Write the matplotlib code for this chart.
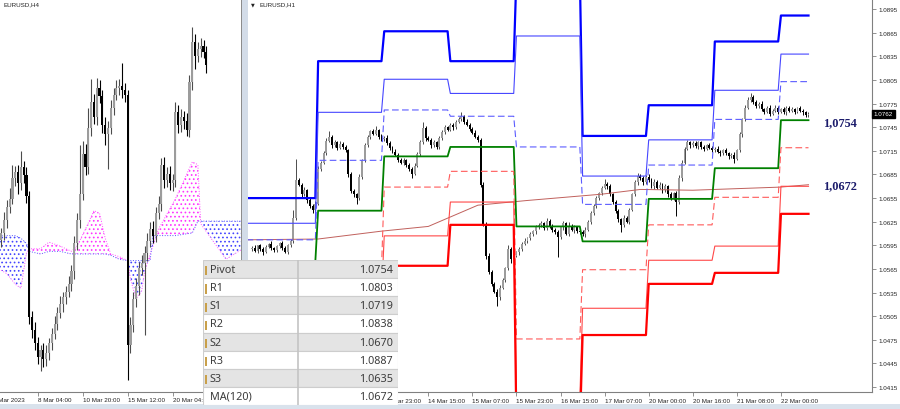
import numpy as np
import matplotlib.pyplot as plt
from matplotlib.patches import Rectangle

plt.rcParams['font.family'] = ['Liberation Sans', 'DejaVu Sans']
plt.rcParams['hatch.linewidth'] = 0.7

# ---------------- data ----------------
# H4 panel (left): closes per bar, wick sizes in pips
h4_close = [1.0630, 1.0640, 1.0650, 1.0656, 1.0672, 1.0676, 1.0668, 1.0680, 1.0674, 1.0658,
            1.0566, 1.0556, 1.0546, 1.0536, 1.0541, 1.0534, 1.0539, 1.0546, 1.0553, 1.0561,
            1.0569, 1.0576, 1.0581, 1.0585, 1.0591, 1.0601, 1.0622, 1.0640, 1.0660, 1.0690,
            1.0680, 1.0710, 1.0730, 1.0718, 1.0740, 1.0734, 1.0712, 1.0705, 1.0710, 1.0725,
            1.0735, 1.0740, 1.0742, 1.0739, 1.0735, 1.0545, 1.0560, 1.0580, 1.0590, 1.0603,
            1.0607, 1.0615, 1.0624, 1.0633, 1.0628, 1.0645, 1.0652, 1.0682, 1.0670, 1.0675,
            1.0668, 1.0670, 1.0722, 1.0712, 1.0718, 1.0715, 1.0708, 1.0745, 1.0775, 1.0765,
            1.0770, 1.0772, 1.0768, 1.0758]
h4_up = [4, 6, 5, 8, 10, 5, 6, 12, 5, 6, 4, 5, 6, 5, 4, 5, 6, 4, 5, 6,
         5, 6, 4, 5, 6, 5, 6, 5, 37, 10, 8, 15, 17, 6, 8, 6, 5, 6, 5, 6,
         5, 6, 5, 17, 5, 4, 6, 5, 6, 5, 6, 5, 6, 5, 6, 5, 6, 5, 6, 5,
         6, 5, 8, 5, 6, 5, 6, 5, 12, 6, 5, 6, 5, 4]
h4_dn = [6, 5, 6, 5, 4, 6, 8, 5, 6, 5, 5, 6, 5, 6, 11, 6, 5, 6, 5, 4,
         5, 4, 6, 5, 4, 5, 6, 5, 6, 5, 6, 5, 6, 5, 6, 5, 6, 8, 26, 5,
         5, 4, 5, 6, 5, 27, 6, 5, 6, 7, 5, 55, 6, 5, 6, 5, 4, 5, 6, 5,
         5, 6, 5, 6, 5, 6, 4, 5, 6, 10, 5, 6, 5, 6]
h4_labels = ['3 Mar 2023', '8 Mar 04:00', '10 Mar 20:00', '15 Mar 12:00', '20 Mar 04:00']
h4_label_bars = [-3, 13, 29, 45, 61]

# Ichimoku cloud (left panel)
cloud_bar = [-1, 2, 5, 7, 9, 10, 14, 17, 21, 25, 27, 30, 33, 35, 37, 39, 42, 45, 46, 48,
             50, 51, 53, 54, 56, 62, 68, 70, 71, 80, 86]
span_a = [1.0603, 1.0599, 1.0591, 1.0588, 1.0615, 1.0618, 1.0618, 1.0623, 1.0620, 1.0616,
          1.0620, 1.0633, 1.0647, 1.0645, 1.0626, 1.0614, 1.0612, 1.0609, 1.0595, 1.0580,
          1.0586, 1.0600, 1.0614, 1.0620, 1.0633, 1.0656, 1.0684, 1.0682, 1.0637, 1.0610, 1.0618]
span_b = [1.0628, 1.0628, 1.0628, 1.0626, 1.0622, 1.0616, 1.0614, 1.0616, 1.0616, 1.0614,
          1.0614, 1.0614, 1.0614, 1.0614, 1.0614, 1.0613, 1.0610, 1.0609, 1.0609, 1.0609,
          1.0609, 1.0609, 1.0609, 1.0628, 1.0628, 1.0628, 1.0630, 1.0639, 1.0639, 1.0639, 1.0639]

# H1 panel (right)
h1_close = [1.0592, 1.0588, 1.0595, 1.0590, 1.0586, 1.0593, 1.0597, 1.0591, 1.0589, 1.0594,
            1.0598, 1.0592, 1.0587, 1.0595, 1.0600,
            1.0630, 1.0678, 1.0672, 1.0660, 1.0665, 1.0652, 1.0645, 1.0640, 1.0648,
            1.0692, 1.0700, 1.0712, 1.0728, 1.0733, 1.0722, 1.0726, 1.0719, 1.0724, 1.0720, 1.0716,
            1.0685, 1.0664, 1.0660, 1.0655, 1.0682, 1.0703, 1.0722, 1.0733, 1.0740, 1.0737,
            1.0741, 1.0733, 1.0730,
            1.0732, 1.0725, 1.0719, 1.0714, 1.0710, 1.0704, 1.0700, 1.0703, 1.0697, 1.0692, 1.0686,
            1.0696, 1.0711, 1.0726, 1.0744, 1.0731, 1.0729, 1.0722, 1.0726, 1.0720, 1.0731,
            1.0739, 1.0745,
            1.0742, 1.0748, 1.0745, 1.0752, 1.0755, 1.0759, 1.0752, 1.0748, 1.0743, 1.0738,
            1.0733, 1.0729,
            1.0672, 1.0622, 1.0582, 1.0561, 1.0546, 1.0536, 1.0529, 1.0541, 1.0551, 1.0566,
            1.0590, 1.0577, 1.0582,
            1.0586, 1.0590, 1.0597, 1.0601, 1.0604, 1.0609, 1.0613, 1.0618, 1.0621, 1.0623,
            1.0617, 1.0626, 1.0619, 1.0615, 1.0612,
            1.0605, 1.0618, 1.0623, 1.0610, 1.0620, 1.0615, 1.0618, 1.0613, 1.0612, 1.0609, 1.0615,
            1.0625, 1.0636, 1.0645, 1.0655, 1.0661, 1.0668, 1.0673, 1.0670, 1.0660, 1.0650,
            1.0638, 1.0628, 1.0621,
            1.0630, 1.0625, 1.0640, 1.0660, 1.0675, 1.0683, 1.0680, 1.0675, 1.0682, 1.0678,
            1.0670, 1.0676, 1.0668,
            1.0672, 1.0665, 1.0670, 1.0660, 1.0655, 1.0661, 1.0650, 1.0680, 1.0700, 1.0718,
            1.0726, 1.0722,
            1.0725, 1.0721, 1.0726, 1.0720, 1.0718, 1.0722, 1.0719, 1.0716, 1.0718, 1.0714,
            1.0712, 1.0716, 1.0712, 1.0708, 1.0710, 1.0705,
            1.0716, 1.0736, 1.0755, 1.0770, 1.0780, 1.0784, 1.0777, 1.0772, 1.0775, 1.0768,
            1.0765, 1.0770, 1.0762,
            1.0766, 1.0770, 1.0765, 1.0768, 1.0764, 1.0770, 1.0766, 1.0768, 1.0765, 1.0769,
            1.0766, 1.0764, 1.0760, 1.0762]
h1_up = [2, 3, 1, 2, 3, 2, 1, 3, 2, 2, 1, 3, 2, 2, 3,
         10, 27, 3, 2, 4, 2, 3, 2, 3,
         4, 2, 3, 3, 7, 2, 3, 2, 3, 2, 3,
         2, 3, 2, 2, 3, 2, 3, 2, 2, 3, 5, 2, 3,
         2, 3, 2, 2, 3, 2, 2, 3, 2, 3, 2,
         3, 2, 3, 8, 2, 3, 2, 3, 2, 3, 2, 3,
         2, 3, 3, 2, 3, 5, 2, 3, 2, 2, 3, 2,
         2, 3, 2, 3, 2, 2, 3, 4, 3, 2, 5, 3, 2,
         2, 3, 2, 3, 2, 3, 2, 3, 2, 3, 2, 4, 2, 3, 2,
         3, 2, 3, 2, 4, 2, 3, 2, 3, 2, 3,
         2, 3, 2, 3, 2, 3, 6, 2, 3, 2, 2, 3, 2,
         3, 2, 3, 2, 3, 4, 2, 3, 2, 3, 2, 3, 2,
         3, 2, 3, 2, 3, 2, 3, 4, 3, 2, 3, 2,
         2, 3, 2, 2, 3, 2, 3, 2, 2, 3, 2, 2, 3, 2, 2, 3,
         2, 3, 2, 3, 3, 4, 2, 3, 2, 3, 2, 2, 3,
         2, 3, 2, 2, 3, 2, 2, 3, 2, 2, 3, 2, 2, 2]
h1_dn = [2, 2, 3, 2, 3, 1, 2, 2, 3, 2, 2, 3, 2, 3, 2,
         2, 3, 2, 3, 2, 3, 2, 4, 2,
         2, 3, 2, 2, 2, 3, 2, 3, 2, 3, 2,
         3, 2, 3, 7, 2, 3, 2, 2, 3, 2, 2, 3, 2,
         3, 2, 3, 2, 2, 3, 2, 3, 2, 3, 6,
         2, 2, 3, 2, 3, 2, 3, 2, 3, 2, 2, 3,
         2, 2, 3, 2, 2, 2, 3, 2, 3, 2, 2, 3,
         3, 2, 4, 3, 3, 2, 11, 3, 2, 3, 2, 4, 2,
         2, 3, 2, 2, 3, 2, 2, 3, 2, 3, 2, 3, 2, 3, 2,
         25, 2, 3, 2, 3, 2, 4, 2, 3, 2, 3,
         2, 3, 2, 2, 3, 2, 2, 3, 2, 3, 2, 3, 9,
         3, 2, 3, 2, 2, 3, 2, 3, 2, 3, 2, 3, 2,
         2, 3, 2, 3, 2, 3, 18, 2, 3, 2, 2, 3,
         2, 2, 3, 2, 3, 2, 2, 3, 2, 2, 3, 2, 2, 3, 2, 6,
         2, 2, 3, 2, 2, 3, 2, 3, 2, 2, 3, 2, 3,
         2, 2, 3, 2, 2, 3, 2, 2, 3, 2, 2, 3, 2, 2]

# daily pivot levels (one value per day, last = current day)
r3 = [1.0655, 1.0829, 1.0867, 1.0829, 1.0940, 1.0734, 1.0773, 1.0854, 1.0887]
r2 = [1.0623, 1.0764, 1.0806, 1.0788, 1.0861, 1.0683, 1.0729, 1.0792, 1.0838]
r1 = [1.0602, 1.0703, 1.0767, 1.0759, 1.0720, 1.0647, 1.0697, 1.0755, 1.0803]
pivot = [1.0575, 1.0639, 1.0708, 1.0720, 1.0619, 1.0600, 1.0654, 1.0693, 1.0754]
s1 = [1.0545, 1.0565, 1.0669, 1.0689, 1.0476, 1.0564, 1.0621, 1.0656, 1.0719]
s2 = [1.0510, 1.0530, 1.0607, 1.0650, 1.0400, 1.0515, 1.0576, 1.0594, 1.0670]
s3 = [1.0480, 1.0505, 1.0569, 1.0621, 1.0360, 1.0481, 1.0546, 1.0560, 1.0635]

# MA(120) vertices
ma_bar = [-2, 24, 47, 64, 72, 82, 100, 127, 141, 160, 192, 202]
ma_val = [1.0602, 1.0603, 1.0613, 1.0619, 1.0631, 1.0646, 1.0652, 1.0660, 1.0666, 1.0665, 1.0669, 1.0672]

h1_tick_bars = [48, 64, 80, 96, 112, 128, 144, 160, 176, 192]
h1_tick_labels = ['13 Mar 23:00', '14 Mar 15:00', '15 Mar 07:00', '15 Mar 23:00', '16 Mar 15:00',
                  '17 Mar 07:00', '20 Mar 00:00', '20 Mar 16:00', '21 Mar 08:00', '22 Mar 00:00']
price_ticks = [1.0415, 1.0445, 1.0475, 1.0505, 1.0535, 1.0565, 1.0595, 1.0625, 1.0655,
               1.0685, 1.0715, 1.0745, 1.0775, 1.0805, 1.0835, 1.0865, 1.0895]

table_rows = ['Pivot', 'R1', 'S1', 'R2', 'S2', 'R3', 'S3', 'MA(120)']
table_vals = [pivot[-1], r1[-1], s1[-1], r2[-1], s2[-1], r3[-1], s3[-1], ma_val[-1]]

# ---------------- figure ----------------
W, H = 900, 410
fig = plt.figure(figsize=(W / 100, H / 100), dpi=100)


def box(x0, y0, x1, y1):
    return [x0 / W, 1 - y1 / H, (x1 - x0) / W, (y1 - y0) / H]


def candles(ax, closes, up, dn, first_open, width, lw):
    c = np.array(closes)
    o = np.r_[first_open, c[:-1]]
    x = np.arange(len(c))
    hi = np.maximum(o, c) + np.array(up) * 0.0001
    lo = np.minimum(o, c) - np.array(dn) * 0.0001
    bull = c >= o
    body_col = np.where(bull, '#9c9c9c', '#000000')
    wick_col = np.where(bull, '#4c4c4c', '#000000')
    ax.vlines(x, lo, hi, colors=wick_col, lw=lw, zorder=2)
    ax.bar(x, np.maximum(np.abs(c - o), 0.00008), bottom=np.minimum(o, c), width=width,
           color=body_col, linewidth=0, zorder=2)


small = dict(fontsize=4.5, color='#222222')

# ---- left H4 panel ----
axL = fig.add_axes(box(0, 0, 241, 393))
xb = np.array(cloud_bar)
a = np.array(span_a)
b = np.array(span_b)
axL.fill_between(xb, a, b, where=a >= b, interpolate=True, facecolor='none',
                 edgecolor='#ff33ff', hatch='....', linewidth=0, zorder=1)
axL.fill_between(xb, a, b, where=a < b, interpolate=True, facecolor='none',
                 edgecolor='#4444ff', hatch='....', linewidth=0, zorder=1)
axL.plot(xb, a, color='#ff55ff', lw=0.7, ls=':', zorder=1)
axL.plot(xb, b, color='#5555ff', lw=0.7, ls=':', zorder=1)
candles(axL, h4_close, h4_up, h4_dn, 1.0625, 0.75, 0.8)
axL.set_xlim(-0.43, 85.34)
axL.set_ylim(1.0509, 1.0808)
axL.set_yticks([])
axL.set_xticks(h4_label_bars[1:])
axL.set_xticklabels([])
axL.tick_params(axis='x', length=3, width=0.6, color='#808080')
for bar, lab in zip(h4_label_bars, h4_labels):
    axL.text(bar, -0.013, lab, transform=axL.get_xaxis_transform(), ha='left', va='top',
             clip_on=False, **small)
for s in ['top', 'left', 'right']:
    axL.spines[s].set_visible(False)
axL.spines['bottom'].set_color('#808080')
axL.spines['bottom'].set_linewidth(0.8)

# ---- right H1 panel ----
axR = fig.add_axes(box(248, 0, 872, 393))
candles(axR, h1_close, h1_up, h1_dn, 1.0590, 0.7, 0.7)

bars = np.arange(-2, len(h1_close))
day = np.clip(bars // 24, 0, len(pivot) - 1)
styles = [(r3, '#0000ff', 1.6, '-'), (r2, '#4646ff', 0.8, '-'), (r1, '#5c5cff', 0.8, (0, (6, 3))),
          (pivot, '#008000', 1.3, '-'), (s1, '#ff5a5a', 0.8, (0, (6, 3))),
          (s2, '#ff4848', 0.8, '-'), (s3, '#ff0000', 1.6, '-')]
axR.plot(ma_bar, ma_val, color='#c0605c', lw=0.7, zorder=3)
for lev, col, lw, ls in styles:
    axR.plot(bars, np.array(lev)[day], color=col, lw=lw, ls=ls, zorder=3)

axR.set_xlim(-1.45, 225.05)
axR.set_ylim(1.04086, 1.0908)
axR.yaxis.tick_right()
axR.set_yticks(price_ticks)
axR.set_yticklabels(['%.4f' % p for p in price_ticks])
axR.tick_params(axis='y', length=3, width=0.6, color='#808080', labelsize=4.5,
                labelcolor='#222222', pad=1.5)
axR.set_xticks(h1_tick_bars)
axR.set_xticklabels(h1_tick_labels)
axR.tick_params(axis='x', length=3, width=0.6, color='#808080', labelsize=4.5,
                labelcolor='#222222', pad=1)
for t in axR.get_xticklabels():
    t.set_ha('left')
for s in ['top', 'left']:
    axR.spines[s].set_visible(False)
for s in ['bottom', 'right']:
    axR.spines[s].set_color('#808080')
    axR.spines[s].set_linewidth(0.8)

axR.text(207.3, pivot[-1] - 0.0003, '1,0754', family='Liberation Serif', weight='bold',
         fontsize=8.8, color='#1b1b6b', va='center', ha='left')
axR.text(207.3, ma_val[-1] - 0.0001, '1,0672', family='Liberation Serif', weight='bold',
         fontsize=8.8, color='#1b1b6b', va='center', ha='left')
axR.text(1.003, h1_close[-1], '%.4f' % h1_close[-1], transform=axR.get_yaxis_transform(),
         fontsize=4.5, color='white', va='center', ha='left', zorder=6,
         bbox=dict(boxstyle='square,pad=0.25', fc='black', ec='black'))

fig.text(3 / W, 1 - 5 / H, 'EURUSD,H4', va='center', ha='left', **small)
fig.text(251 / W, 1 - 5 / H, '\u25bc', va='center', ha='left', fontsize=3.5, color='#222222',
         family='DejaVu Sans')
fig.text(259 / W, 1 - 5 / H, 'EURUSD,H1', va='center', ha='left', **small)

# separator between panels and bottom strip
fig.patches.append(Rectangle((241 / W, 0), 7 / W, 1, transform=fig.transFigure,
                             fc='#d3dce8', ec='none', zorder=5))
fig.patches.append(Rectangle((240.5 / W, 0), 1 / W, 1, transform=fig.transFigure,
                             fc='#8c8c8c', ec='none', zorder=5))
fig.patches.append(Rectangle((0, 0), 1, 5 / H, transform=fig.transFigure,
                             fc='#d9e2ec', ec='none', zorder=5))

# ---- table of levels ----
axT = fig.add_axes(box(203, 261, 398, 406), zorder=10)
row_h = 145 / len(table_rows)
axT.set_xlim(0, 195)
axT.set_ylim(145, 0)
axT.axis('off')
for k, (name, val) in enumerate(zip(table_rows, table_vals)):
    y0 = k * row_h
    axT.add_patch(Rectangle((0, y0), 195, row_h, fc='#e4e4e4' if k % 2 == 0 else '#ffffff',
                            ec='#cdcdcd', lw=0.8))
    if name != 'MA(120)':
        axT.add_patch(Rectangle((2, y0 + row_h * 0.35), 1.6, row_h * 0.5, fc='#c9a04a', ec='none'))
    axT.text(7, y0 + row_h / 2 + 0.5, name, fontsize=7.8, family='Noto Sans', color='#3c3c3c',
             va='center', ha='left')
    axT.text(190, y0 + row_h / 2 + 0.5, '%.4f' % val, fontsize=7.8, family='Noto Sans',
             color='#3c3c3c', va='center', ha='right')
axT.plot([95, 95], [0, 145], color='#c4c4c4', lw=1.2)

fig.savefig('out.png', dpi=100)
